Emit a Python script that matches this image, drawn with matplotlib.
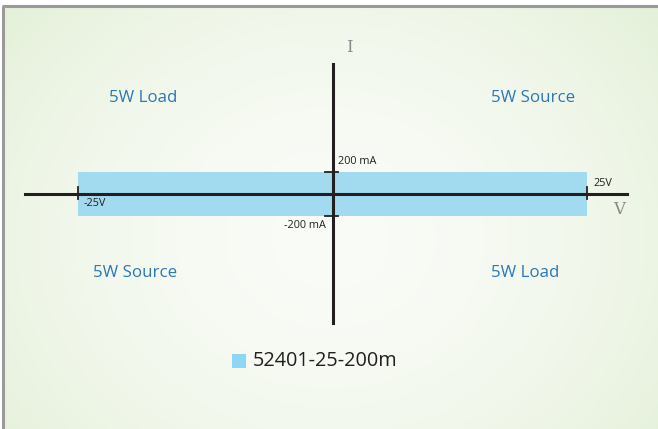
import numpy as np
import matplotlib
matplotlib.use("Agg")
import matplotlib.pyplot as plt
from matplotlib.patches import Rectangle

# Data
v_limits = [-25, 25]          # V
i_limits = [-200, 200]        # mA
v_tick_labels = ["-25V", "25V"]
i_tick_labels = ["-200 mA", "200 mA"]
quadrant_labels = ["5W Source", "5W Load", "5W Source", "5W Load"]  # Q1, Q2, Q3, Q4
series_name = "52401-25-200m"

W, H = 658, 429
fig = plt.figure(figsize=(W / 100, H / 100), dpi=100)
fig.patch.set_facecolor("white")

# pixel -> data mapping
px_per_v = (587 - 78) / 50.0
px_per_ma = (216 - 172) / 400.0
x0, y0 = 332.5, 194
xmin = (0 - x0) / px_per_v
xmax = (W - x0) / px_per_v
ymax = (y0 - 0) / px_per_ma
ymin = -(H - y0) / px_per_ma

ax = fig.add_axes([0, 0, 1, 1])
ax.set_xlim(xmin, xmax)
ax.set_ylim(ymin, ymax)
ax.axis("off")

def px2v(px):
    return (px - x0) / px_per_v

def py2i(py):
    return (y0 - py) / px_per_ma

# gradient background inside the frame
gx = np.linspace(0, 1, 400)
gy = np.linspace(0, 1, 300)
GX, GY = np.meshgrid(gx, gy)
r = np.sqrt(((GX - 0.5) / 0.72) ** 2 + ((GY - 0.55) / 0.95) ** 2)
r = np.clip(r, 0, 1)
c_in = np.array([0.978, 0.988, 0.968])
c_out = np.array([0.878, 0.933, 0.827])
t = r ** 1.8
img = c_in[None, None, :] * (1 - t[..., None]) + c_out[None, None, :] * t[..., None]
ax.imshow(img, extent=[px2v(3), xmax, ymin, py2i(7)], aspect="auto", zorder=0)

# frame (top and left)
ax.plot([px2v(2), xmax], [py2i(6), py2i(6)], color="#9a9a9a", lw=2.2, zorder=1, solid_capstyle="butt")
ax.plot([px2v(2.5), px2v(2.5)], [py2i(6), ymin], color="#9a9a9a", lw=2.2, zorder=1, solid_capstyle="butt")

# operating area rectangle
ax.add_patch(Rectangle((v_limits[0], i_limits[0]), v_limits[1] - v_limits[0],
                       i_limits[1] - i_limits[0], facecolor="#a2daf0", edgecolor="none", zorder=2))

# axes lines
ax.plot([px2v(25), px2v(627)], [0, 0], color="#231f20", lw=2.2, zorder=3)
ax.plot([0, 0], [py2i(64), py2i(323)], color="#231f20", lw=2.2, zorder=3)

# ticks
for v in v_limits:
    ax.plot([v, v], [py2i(187), py2i(199)], color="#231f20", lw=1.3, zorder=3)
for i in i_limits:
    ax.plot([px2v(325), px2v(338)], [i, i], color="#231f20", lw=1.3, zorder=3)

font = "Open Sans"
dark = "#231f20"
ax.text(px2v(338), py2i(161), i_tick_labels[1], fontsize=7.8, family=font, color=dark, ha="left", va="center", zorder=4)
ax.text(px2v(326), py2i(225), i_tick_labels[0], fontsize=7.8, family=font, color=dark, ha="right", va="center", zorder=4)
ax.text(px2v(594), py2i(183), v_tick_labels[1], fontsize=7.8, family=font, color=dark, ha="left", va="center", zorder=4)
ax.text(px2v(84), py2i(204), v_tick_labels[0], fontsize=7.8, family=font, color=dark, ha="left", va="center", zorder=4)

# axis names
ax.text(px2v(349), py2i(48), "I", fontsize=12, family="DejaVu Serif", color="#8a8a8a", ha="center", va="center", zorder=4)
ax.text(px2v(619), py2i(210), "V", fontsize=12, family="DejaVu Serif", color="#8a8a8a", ha="center", va="center", zorder=4)

# quadrant labels
blue = "#2a78b6"
qpos = [(533, 98), (143, 98), (135, 273), (525, 273)]
for lab, (px, py) in zip(quadrant_labels, qpos):
    ax.text(px2v(px), py2i(py), lab, fontsize=12.2, family=font, color=blue, ha="center", va="center", zorder=4)

# legend
ax.add_patch(Rectangle((px2v(232), py2i(368)), 14 / px_per_v, 14 / px_per_ma,
                       facecolor="#8ed6f6", edgecolor="none", zorder=4))
ax.text(px2v(253), py2i(361), series_name, fontsize=14.3, family=font, color=dark, ha="left", va="center", zorder=4)

fig.savefig("out.png", dpi=100)
